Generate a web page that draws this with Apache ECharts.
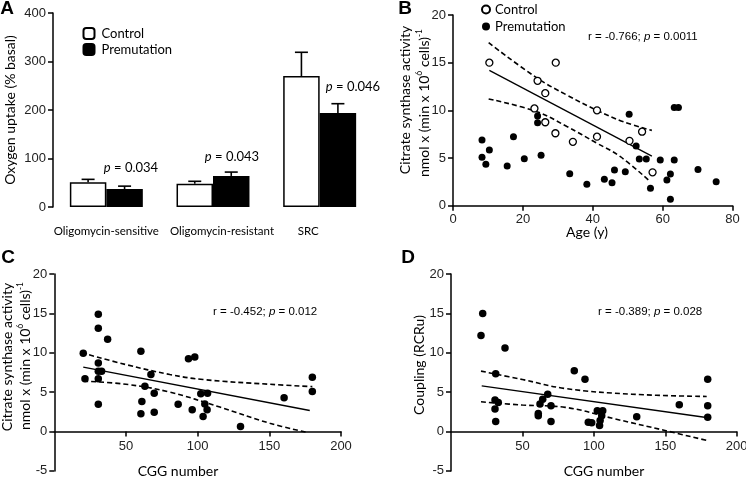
<!DOCTYPE html>
<html>
<head>
<meta charset="utf-8">
<script src="https://cdn.jsdelivr.net/npm/echarts@6/dist/echarts.min.js"></script>
<style>
html, body { margin: 0; padding: 0; background: #fff; }
#chart { width: 746px; height: 478px; }
</style>
</head>
<body>
<div id="chart"></div>
<script>
// panel A - oxygen uptake
var catsA = ["Oligomycin-sensitive", "Oligomycin-resistant", "SRC"];
var ctrlMean = [51, 48, 270];
var ctrlTop = [57, 53, 319];
var premMean = [37, 64, 194];
var premTop = [43, 72, 213];
var ticksA = [0, 100, 200, 300, 400];

// panel B - citrate synthase vs age
var ctrlAge = [10.4, 29.4, 24.2, 26.4, 23.3, 41.2, 26.4, 29.3, 41.2, 34.3, 50.5, 54.1, 57.1];
var ctrlCS = [15.0, 15.0, 13.1, 11.8, 10.2, 10.0, 8.75, 7.6, 7.24, 6.7, 6.8, 7.76, 3.5];
var premAge = [8.3, 17.3, 10.4, 8.3, 9.4, 15.5, 20.4, 25.2, 24.2, 24.2, 33.4, 38.3, 50.4, 63.3, 64.5, 52.4, 53.3, 55.3, 59.3, 63.3, 46.2, 49.3, 43.3, 45.5, 56.5, 62.2, 61.2, 62.2, 70.1, 75.3];
var premCS = [6.9, 7.24, 5.84, 5.07, 4.34, 4.16, 4.93, 5.28, 9.4, 8.7, 3.36, 2.24, 9.6, 10.3, 10.3, 6.26, 4.9, 4.9, 4.8, 4.8, 3.74, 3.57, 2.77, 2.4, 1.82, 3.32, 2.7, 0.67, 3.8, 2.52];
var fitBx = [10.4, 56.9], fitBy = [14.2, 5.2];
var hiBx = [10.2, 24, 32.6, 41.2, 48.8, 56.9], hiBy = [17.1, 13.4, 11.6, 10.0, 8.8, 7.9];
var loBx = [10.2, 24, 32.6, 41.2, 47.9, 56.5], loBy = [11.2, 9.86, 8.3, 6.55, 5.14, 2.5];

// panel C - citrate synthase vs CGG
var cggC = [30.7, 30.7, 37.2, 20.2, 60.4, 30.7, 33, 30.7, 21.4, 30.7, 67.4, 63.2, 69.7, 61.1, 30.7, 60.4, 69.7, 86.4, 93.6, 98, 102.2, 106.9, 96.2, 105, 106.6, 103.8, 129.9, 160.3, 180, 180];
var csC = [14.9, 13.1, 11.7, 9.95, 10.2, 8.7, 7.66, 7.66, 6.7, 6.7, 7.24, 5.76, 4.87, 3.8, 3.47, 2.25, 2.45, 3.47, 9.24, 9.45, 4.79, 4.87, 2.75, 3.5, 2.75, 1.9, 0.64, 4.28, 6.9, 5.08];
var fitCx = [20.2, 178.2], fitCy = [8.17, 2.67];
var hiCx = [19, 50, 80.6, 103.8, 150, 180], hiCy = [10.0, 8.5, 7.24, 6.6, 6.0, 5.7];
var loCx = [20.2, 50, 80.6, 115.5, 150.3, 176], loCy = [6.4, 6.0, 5.0, 3.1, 1.05, -0.1];

// panel D - coupling vs CGG
var cggD = [22.2, 21, 37.8, 31.3, 30.8, 33.1, 30.8, 31.3, 61.1, 61.1, 62.3, 64.2, 67.7, 70, 70, 86.3, 93.8, 96.1, 98.5, 102.4, 106.2, 105.5, 104.4, 104, 130, 159.8, 179.7, 179.7, 179.7];
var coupD = [15.0, 12.2, 10.6, 7.35, 4.0, 3.7, 2.86, 1.26, 2.3, 2.0, 3.48, 4.1, 4.74, 3.27, 1.26, 7.7, 6.63, 1.18, 1.1, 2.64, 2.64, 2.0, 1.4, 0.75, 1.89, 3.4, 6.63, 3.27, 1.81];
var fitDx = [21.5, 180], fitDy = [5.79, 1.75];
var hiDx = [21, 50, 80, 126.5, 179], hiDy = [7.67, 6.6, 5.46, 4.74, 4.45];
var loDx = [21, 50, 80, 114.8, 149.8, 179], loDy = [3.77, 3.36, 3.07, 1.6, 0.13, -1.13];

var TICK = '"Liberation Sans", Arial, sans-serif';
var TXT = 'Lato, "Open Sans", sans-serif';

function pairs(xs, ys) {
    var out = [];
    for (var i = 0; i < xs.length; i++) out.push([xs[i], ys[i]]);
    return out;
}

function valAxis(grid, min, max, step, extra) {
    var ax = {
        type: "value", gridIndex: grid, min: min, max: max, interval: step,
        splitLine: { show: false },
        axisLine: { show: true, lineStyle: { color: "#000", width: 1.5 } },
        axisTick: { show: true, length: 5, lineStyle: { color: "#000", width: 1.5 } },
        axisLabel: { color: "#222", fontSize: 13, fontFamily: TICK, margin: 7 }
    };
    for (var k in extra) ax[k] = extra[k];
    return ax;
}

function lineSeries(ax, data, dashed, smooth) {
    return {
        type: "line", xAxisIndex: ax, yAxisIndex: ax, data: data, smooth: smooth ? 0.4 : false,
        showSymbol: false, symbol: "none", silent: true, z: 3,
        lineStyle: { color: "#000", width: dashed ? 1.6 : 1.3, type: dashed ? [5, 3] : "solid" }
    };
}

function dots(ax, name, data, open, size) {
    return {
        type: "scatter", name: name, xAxisIndex: ax, yAxisIndex: ax, data: data,
        symbol: "circle", symbolSize: size, z: 4,
        itemStyle: open ? { color: "#fff", borderColor: "#000", borderWidth: 1.3, opacity: 1 } : { color: "#000", opacity: 1 }
    };
}

function errBar(params, api) {
    var cat = api.value(0), top = api.value(1), mean = api.value(2), side = api.value(3);
    var band = api.size([1, 0])[0];
    var bw = band * (1 - 0.316) / 2;
    var cx = api.coord([cat, 0])[0] + side * bw / 2;
    var yTop = api.coord([cat, top])[1], yMean = api.coord([cat, mean])[1];
    var st = { stroke: "#000", lineWidth: 1.6 };
    return {
        type: "group",
        children: [
            { type: "line", shape: { x1: cx, y1: yMean, x2: cx, y2: yTop }, style: st },
            { type: "line", shape: { x1: cx - 6.5, y1: yTop, x2: cx + 6.5, y2: yTop }, style: st }
        ]
    };
}

var errData = [];
for (var i = 0; i < catsA.length; i++) {
    errData.push([i, ctrlTop[i], ctrlMean[i], -1]);
    errData.push([i, premTop[i], premMean[i], 1]);
}

function label(x, y, text, font, extra) {
    var el = {
        type: "text", x: x, y: y, silent: true,
        style: { text: text, font: font, fill: "#000", align: "center", verticalAlign: "middle" }
    };
    for (var k in extra) el[k] = extra[k];
    return el;
}

function richLabel(x, y, text, rich, align, rot) {
    var el = {
        type: "text", x: x, y: y, silent: true,
        style: { text: text, rich: rich, fill: "#000", align: align, verticalAlign: "middle" }
    };
    if (rot) el.rotation = rot;
    return el;
}

var rRich = {
    n: { fontFamily: TICK, fontSize: 11.5, color: "#000" },
    i: { fontFamily: TICK, fontSize: 11.5, fontStyle: "italic", color: "#000" }
};
var pRich = {
    n: { fontFamily: TXT, fontSize: 13, color: "#000" },
    i: { fontFamily: TXT, fontSize: 13, fontStyle: "italic", color: "#000" }
};
var unitRich = {
    n: { fontFamily: TXT, fontSize: 14, color: "#000", lineHeight: 18 },
    s: { fontFamily: TXT, fontSize: 8.5, color: "#000", verticalAlign: "top", lineHeight: 10 }
};
var unitText = "{n|nmol x (min x 10}{s|6}{n| cells)}{s|-1}";
var ROT = Math.PI / 2;

// category labels in A sit a little off their bar pairs
var catRich = {
    c0: { fontFamily: TXT, fontSize: 11.5, color: "#000", padding: [0, 0, 0, 0] },
    c1: { fontFamily: TXT, fontSize: 11.5, color: "#000", padding: [0, 0, 0, 18] },
    c2: { fontFamily: TXT, fontSize: 11.5, color: "#000", padding: [0, 23, 0, 0] }
};

// x labels of C and D: v6 puts them under the grid, not under the zero line, so pull them up
var zeroLabel = { color: "#222", fontSize: 13, fontFamily: TICK, margin: -31, showMinLabel: false };

var chart = echarts.init(document.getElementById("chart"), null, { renderer: "canvas" });

var option = {
    animation: false,
    backgroundColor: "#fff",
    grid: [
        { left: 53, top: 13, width: 320, height: 194, outerBoundsMode: "none" },
        { left: 453, top: 15, width: 279.6, height: 190.7, outerBoundsMode: "none" },
        { left: 54.3, top: 274, width: 286.7, height: 196.9, outerBoundsMode: "none" },
        { left: 451, top: 274, width: 285.7, height: 196.9, outerBoundsMode: "none" }
    ],
    legend: [
        {
            orient: "vertical", left: 77.5, top: 22, itemWidth: 11, itemHeight: 11, itemGap: 3,
            data: ["Control", "Premutation"], selectedMode: false,
            textStyle: { fontFamily: TXT, fontSize: 13, color: "#000", padding: [0, 0, 0, 2] }
        },
        {
            orient: "vertical", left: 476, top: -2, itemWidth: 8, itemHeight: 8, itemGap: 4,
            data: ["Control (B)", "Premutation (B)"], selectedMode: false,
            formatter: function(n) { return n.replace(" (B)", ""); },
            textStyle: { fontFamily: TXT, fontSize: 13, color: "#000" }
        }
    ],
    xAxis: [
        {
            type: "category", gridIndex: 0, data: catsA,
            axisLine: { show: false }, axisTick: { show: false },
            axisLabel: {
                interval: 0, margin: 18, rich: catRich,
                formatter: function(v, idx) { return "{c" + idx + "|" + v + "}"; }
            }
        },
        valAxis(1, 0, 80, 20, {}),
        valAxis(2, 0, 200, 50, { axisLabel: zeroLabel }),
        valAxis(3, 0, 200, 50, { axisLabel: zeroLabel })
    ],
    yAxis: [
        valAxis(0, ticksA[0], ticksA[ticksA.length - 1], 100, {}),
        valAxis(1, 0, 20, 5, {}),
        valAxis(2, -5, 20, 5, {}),
        valAxis(3, -5, 20, 5, {})
    ],
    series: [
        {
            type: "bar", name: "Control", xAxisIndex: 0, yAxisIndex: 0, data: ctrlMean,
            barGap: "0%", barCategoryGap: "31.6%",
            itemStyle: { color: "#fff", borderColor: "#000", borderWidth: 1.5 }
        },
        {
            type: "bar", name: "Premutation", xAxisIndex: 0, yAxisIndex: 0, data: premMean,
            barGap: "0%", barCategoryGap: "31.6%",
            itemStyle: { color: "#000", borderColor: "#000", borderWidth: 1.5 }
        },
        {
            type: "custom", xAxisIndex: 0, yAxisIndex: 0, data: errData, renderItem: errBar,
            encode: { x: 0, y: 1 }, z: 5, silent: true
        },
        dots(1, "Premutation (B)", pairs(premAge, premCS), false, 7),
        dots(1, "Control (B)", pairs(ctrlAge, ctrlCS), true, 7),
        lineSeries(1, pairs(fitBx, fitBy), false, false),
        lineSeries(1, pairs(hiBx, hiBy), true, true),
        lineSeries(1, pairs(loBx, loBy), true, true),
        dots(2, "CS", pairs(cggC, csC), false, 7.5),
        lineSeries(2, pairs(fitCx, fitCy), false, false),
        lineSeries(2, pairs(hiCx, hiCy), true, true),
        lineSeries(2, pairs(loCx, loCy), true, true),
        dots(3, "Coupling", pairs(cggD, coupD), false, 7.5),
        lineSeries(3, pairs(fitDx, fitDy), false, false),
        lineSeries(3, pairs(hiDx, hiDy), true, true),
        lineSeries(3, pairs(loDx, loDy), true, true)
    ],
    graphic: [
        label(7, 9, "A", 'bold 19px ' + TICK),
        label(405, 8.5, "B", 'bold 19px ' + TICK),
        label(8, 258, "C", 'bold 19px ' + TICK),
        label(408, 258, "D", 'bold 19px ' + TICK),
        label(10, 110, "Oxygen uptake (% basal)", '14px ' + TXT, { rotation: ROT }),
        label(405, 100, "Citrate synthase activity", '14px ' + TXT, { rotation: ROT }),
        richLabel(424, 103, unitText, unitRich, "center", ROT),
        label(7, 357, "Citrate synthase activity", '14px ' + TXT, { rotation: ROT }),
        richLabel(25, 356, unitText, unitRich, "center", ROT),
        label(419, 365, "Coupling (RCRu)", '14px ' + TXT, { rotation: ROT }),
        label(587, 232, "Age (y)", '14px ' + TXT),
        label(178, 471, "CGG number", '14px ' + TXT),
        label(604, 471, "CGG number", '14px ' + TXT),
        richLabel(131, 168, "{i|p}{n| = 0.034}", pRich, "center"),
        richLabel(232, 157, "{i|p}{n| = 0.043}", pRich, "center"),
        richLabel(353, 87, "{i|p}{n| = 0.046}", pRich, "center"),
        richLabel(588, 37, "{n|r = -0.766; }{i|p}{n| = 0.0011}", rRich, "left"),
        richLabel(213, 312, "{n|r = -0.452; }{i|p}{n| = 0.012}", rRich, "left"),
        richLabel(598, 312, "{n|r = -0.389; }{i|p}{n| = 0.028}", rRich, "left")
    ]
};

chart.setOption(option);
</script>
</body>
</html>
